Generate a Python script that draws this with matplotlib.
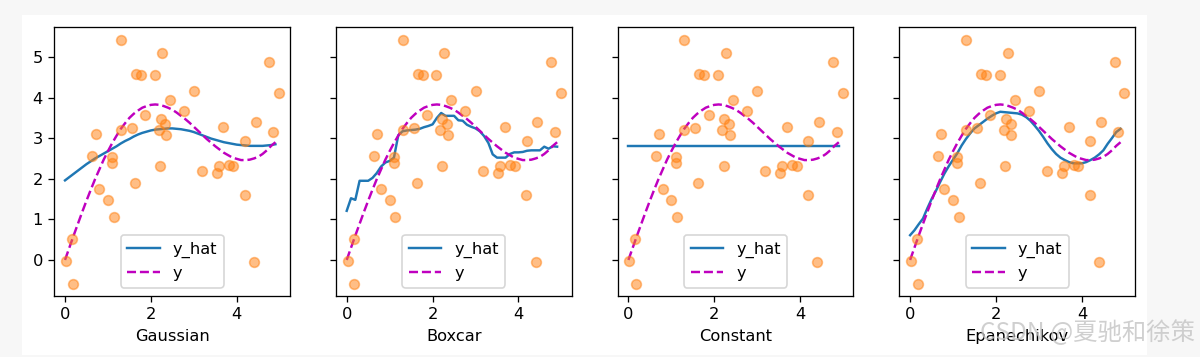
import numpy as np
import matplotlib
matplotlib.use("Agg")
import matplotlib.pyplot as plt
from matplotlib.patches import Rectangle

# ---- data ----
x_train = [0.02, 0.16, 0.18, 0.64, 0.71, 0.80, 1.00, 1.10, 1.10, 1.13,
           1.30, 1.30, 1.56, 1.63, 1.65, 1.77, 1.87, 2.09, 2.18, 2.22,
           2.23, 2.27, 2.34, 2.36, 2.44, 2.76, 3.00, 3.18, 3.53, 3.58,
           3.69, 3.81, 3.92, 4.18, 4.19, 4.40, 4.44, 4.76, 4.85, 4.99]
y_train = [-0.02, 0.52, -0.58, 2.57, 3.10, 1.75, 1.48, 2.54, 2.40, 1.07,
           3.21, 5.43, 3.24, 1.90, 4.58, 4.56, 3.58, 4.56, 3.21, 2.32,
           3.48, 5.10, 3.34, 3.07, 3.93, 3.67, 4.16, 2.20, 2.14, 2.32,
           3.27, 2.34, 2.31, 1.60, 2.94, -0.05, 3.40, 4.88, 3.14, 4.12]

x_val = [round(0.1 * i, 1) for i in range(50)]

y_val = [0.00, 0.30, 0.60, 0.89, 1.18, 1.46, 1.73, 1.99, 2.23, 2.47,
         2.68, 2.88, 3.06, 3.23, 3.37, 3.50, 3.60, 3.68, 3.75, 3.79,
         3.82, 3.83, 3.82, 3.79, 3.75, 3.70, 3.63, 3.55, 3.47, 3.38,
         3.28, 3.18, 3.08, 2.98, 2.89, 2.80, 2.72, 2.64, 2.58, 2.52,
         2.49, 2.46, 2.46, 2.47, 2.50, 2.54, 2.61, 2.70, 2.81, 2.90]

y_hat_gaussian = [1.96, 2.04, 2.12, 2.20, 2.28, 2.36, 2.43, 2.50, 2.56, 2.62,
                  2.68, 2.74, 2.80, 2.87, 2.93, 2.98, 3.04, 3.09, 3.13, 3.16,
                  3.19, 3.21, 3.22, 3.23, 3.24, 3.24, 3.23, 3.22, 3.20, 3.18,
                  3.15, 3.11, 3.07, 3.03, 2.99, 2.96, 2.93, 2.90, 2.88, 2.86,
                  2.84, 2.83, 2.82, 2.81, 2.81, 2.81, 2.81, 2.82, 2.83, 2.85]

y_hat_boxcar = [1.21, 1.52, 1.48, 1.95, 1.95, 1.95, 2.02, 2.14, 2.30, 2.40,
                2.44, 2.52, 3.07, 3.17, 3.19, 3.20, 3.21, 3.23, 3.27, 3.30,
                3.34, 3.50, 3.62, 3.55, 3.55, 3.55, 3.44, 3.43, 3.33, 3.28,
                3.24, 3.17, 3.05, 2.88, 2.60, 2.52, 2.52, 2.52, 2.61, 2.65,
                2.65, 2.66, 2.69, 2.70, 2.70, 2.70, 2.79, 2.74, 2.80, 2.79]

y_hat_constant = [2.81] * 50

y_hat_epanechikov = [0.61, 0.73, 0.88, 1.02, 1.27, 1.50, 1.70, 1.92, 2.13, 2.31,
                     2.47, 2.63, 2.82, 2.98, 3.12, 3.24, 3.32, 3.40, 3.48, 3.55,
                     3.61, 3.65, 3.64, 3.63, 3.62, 3.61, 3.58, 3.52, 3.43, 3.31,
                     3.18, 3.03, 2.87, 2.73, 2.61, 2.52, 2.46, 2.41, 2.38, 2.38,
                     2.38, 2.41, 2.46, 2.52, 2.60, 2.70, 2.86, 3.00, 3.15, 3.23]

names = ["Gaussian", "Boxcar", "Constant", "Epanechikov"]
y_hats = [y_hat_gaussian, y_hat_boxcar, y_hat_constant, y_hat_epanechikov]

# ---- figure ----
DPI = 117
fig = plt.figure(figsize=(1200 / DPI, 357 / DPI), dpi=DPI, facecolor="#f7f7f7")
fig.patches.append(Rectangle((22 / 1200, 2 / 357), 1125 / 1200, 340 / 357,
                             transform=fig.transFigure, facecolor="white",
                             edgecolor="none", zorder=-10))

left0 = 54.3 / 1200
step = 281.7 / 1200
w = 235.7 / 1200
b = (357 - 295.7) / 357
h = 268.4 / 357

axes = []
for i in range(4):
    if i == 0:
        ax = fig.add_axes([left0 + i * step, b, w, h])
    else:
        ax = fig.add_axes([left0 + i * step, b, w, h], sharey=axes[0])
        ax.tick_params(labelleft=False)
    axes.append(ax)

for ax, name, y_hat in zip(axes, names, y_hats):
    ax.plot(x_val, y_hat)
    ax.plot(x_val, y_val, "m--")
    ax.plot(x_train, y_train, "o", alpha=0.5)
    ax.set_xlabel(name)
    ax.legend(["y_hat", "y"], loc="lower center")

fig.text(1195 / 1200, (357 - 333) / 357, "CSDN @夏驰和徐策",
         ha="right", va="center", fontsize=15, color="#c4c4c4", alpha=0.8,
         family=["Noto Sans CJK SC", "DejaVu Sans"])

fig.savefig("out.png", dpi=DPI, facecolor=fig.get_facecolor())
